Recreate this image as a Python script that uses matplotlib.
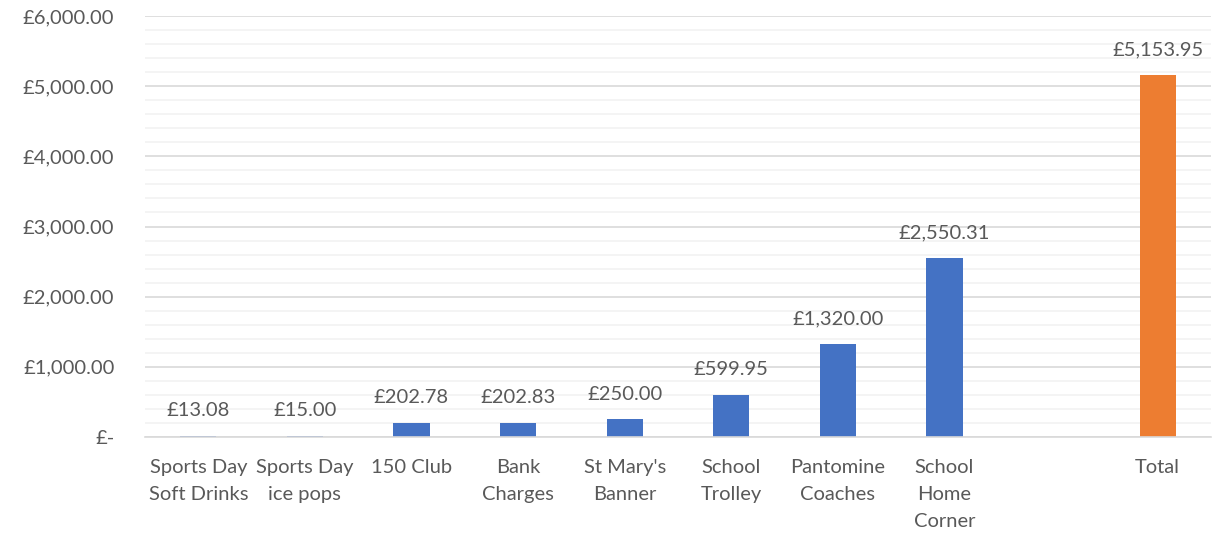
import matplotlib.pyplot as plt
from matplotlib.ticker import MultipleLocator, FuncFormatter

plt.rcParams['font.family'] = ['Lato', 'DejaVu Sans']

# Data
categories = ["Sports Day\nSoft Drinks", "Sports Day\nice pops", "150 Club",
              "Bank\nCharges", "St Mary's\nBanner", "School\nTrolley",
              "Pantomine\nCoaches", "School\nHome\nCorner", "", "Total"]
values = [13.08, 15.00, 202.78, 202.83, 250.00, 599.95, 1320.00, 2550.31, None, 5153.95]
bar_colors = ["#4472C4"] * 9 + ["#ED7D31"]

text_color = "#595959"
fs = 14.5

fig = plt.figure(figsize=(12.14, 5.4), dpi=100)
ax = fig.add_axes([145 / 1214, 1 - 437 / 540, 1066 / 1214, 421 / 540])

xs = list(range(len(categories)))
for x, v, c in zip(xs, values, bar_colors):
    if v is None:
        continue
    ax.bar(x, v, width=0.34, color=c, zorder=3)
    ax.annotate(f"£{v:,.2f}", (x, v), xytext=(0, 12), textcoords="offset points",
                ha="center", va="bottom", fontsize=fs, color=text_color)

ax.set_xlim(-0.5, len(categories) - 0.5)
ax.set_ylim(0, 6000)
ax.yaxis.set_major_locator(MultipleLocator(1000))
ax.yaxis.set_minor_locator(MultipleLocator(200))
ax.yaxis.set_major_formatter(FuncFormatter(lambda v, p: "£-" if v == 0 else f"£{v:,.2f}"))

ax.grid(axis="y", which="major", color="#D9D9D9", linewidth=1.2, zorder=0)
ax.grid(axis="y", which="minor", color="#F2F2F2", linewidth=1.2, zorder=0)

ax.set_xticks(xs)
ax.set_xticklabels(categories, fontsize=fs, color=text_color, linespacing=1.7)
ax.tick_params(axis="x", length=0, pad=16)
ax.tick_params(axis="y", which="both", length=0, pad=22, labelsize=fs, labelcolor=text_color)

for s in ["top", "right", "left"]:
    ax.spines[s].set_visible(False)
ax.spines["bottom"].set_color("#D9D9D9")
ax.spines["bottom"].set_linewidth(1.2)
ax.spines["bottom"].set_zorder(4)

fig.savefig("out.png", dpi=100)
